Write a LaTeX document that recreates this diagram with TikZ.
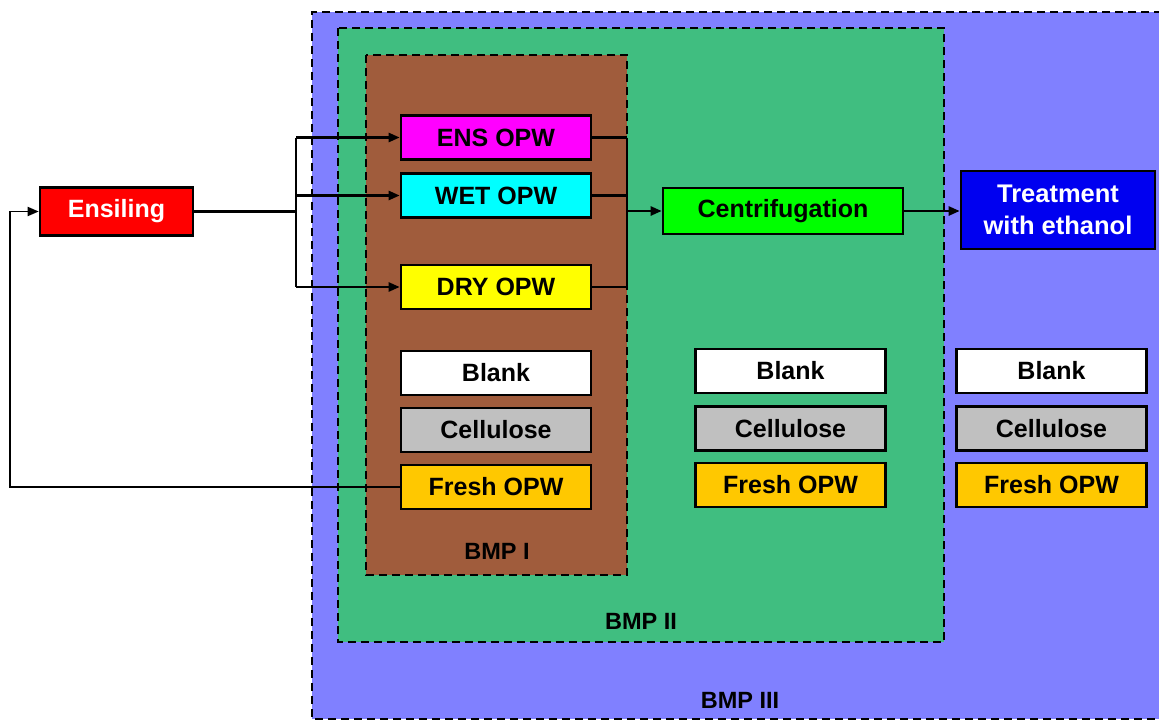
\documentclass[tikz,border=0pt]{standalone}
\usepackage{fontspec}
\setmainfont{Liberation Sans}
\usetikzlibrary{arrows.meta}
\definecolor{bmpthree}{RGB}{128,128,255}
\definecolor{bmptwo}{RGB}{64,190,128}
\definecolor{bmpone}{RGB}{160,92,60}
\definecolor{freshc}{RGB}{255,200,0}
\definecolor{cellc}{RGB}{192,192,192}
\definecolor{centc}{RGB}{0,255,0}
\definecolor{treatc}{RGB}{0,0,240}
\definecolor{ensc}{RGB}{255,0,255}
\definecolor{wetc}{RGB}{0,255,255}
\definecolor{dryc}{RGB}{255,255,0}
\begin{document}
\begin{tikzpicture}[x=1pt,y=-1pt,
  region/.style={draw=black,line width=2pt,dash pattern=on 8pt off 5pt},
  procbox/.style={draw=black,line width=2.6pt,minimum width=190pt,minimum height=44pt,inner sep=0pt,font=\fontsize{25}{28}\selectfont\bfseries,anchor=center},
  lbl/.style={font=\fontsize{23.5}{26}\selectfont\bfseries},
  conn/.style={line width=2.4pt},
  arr/.style={line width=2.4pt,-{Triangle[length=11pt,width=9pt]}}]
\useasboundingbox (0,0) rectangle (1159,720);
% regions
\fill[bmpthree] (312,12) rectangle (1159,719);
\draw[region] (1162,12) -- (312,12) -- (312,719) -- (1162,719);
\draw[region,fill=bmptwo] (338,28) rectangle (944,642);
\draw[region,fill=bmpone] (366,55) rectangle (627,575);
\node[lbl] (l1) at (497,551) {BMP I};
\node[lbl] (l2) at (641,621) {BMP II};
\node[lbl] (l3) at (740,700) {BMP III};
% boxes
\node[procbox,fill=red,text=white,minimum width=153pt,minimum height=48pt] (ensil) at (116.5,211.5) {Ensiling};
\node[procbox,fill=ensc] (ens) at (496,137.5) {ENS OPW};
\node[procbox,fill=wetc] (wet) at (496,195.5) {WET OPW};
\node[procbox,fill=dryc] (dry) at (496,287) {DRY OPW};
\node[procbox,fill=white] (b1) at (496,373) {Blank};
\node[procbox,fill=cellc] (c1) at (496,430) {Cellulose};
\node[procbox,fill=freshc] (f1) at (496,487) {Fresh OPW};
\node[procbox,fill=centc,minimum width=240pt,minimum height=46pt] (cent) at (783,211) {Centrifugation};
\node[procbox,fill=treatc,text=white,minimum width=194pt,minimum height=78pt,align=center,font=\fontsize{25.5}{32}\selectfont\bfseries] (treat) at (1058,210) {Treatment\\with ethanol};
\node[procbox,fill=white] (b2) at (790.5,371) {Blank};
\node[procbox,fill=cellc] (c2) at (790.5,428.5) {Cellulose};
\node[procbox,fill=freshc] (f2) at (790.5,485) {Fresh OPW};
\node[procbox,fill=white] (b3) at (1051.5,371) {Blank};
\node[procbox,fill=cellc] (c3) at (1051.5,428.5) {Cellulose};
\node[procbox,fill=freshc] (f3) at (1051.5,485) {Fresh OPW};
% connectors
\coordinate (split) at (296,211.5);
\coordinate (join) at (627,211);
\draw[conn] (ensil.east) -- (split);
\draw[conn] (split |- ens.west) -- (split |- dry.west);
\draw[arr] (split |- ens.west) -- (ens.west);
\draw[arr] (split |- wet.west) -- (wet.west);
\draw[arr] (split |- dry.west) -- (dry.west);
\draw[conn] (ens.east) -- (join |- ens.east);
\draw[conn] (wet.east) -- (join |- wet.east);
\draw[conn] (dry.east) -- (join |- dry.east);
\draw[conn] (join |- ens.east) -- (join |- dry.east);
\draw[arr] (join) -- (cent.west);
\draw[arr] (cent.east) -- (treat.west |- cent.east);
\coordinate (back) at (10,487);
\draw[arr,line width=1.8pt] (f1.west) -- (back) |- (ensil.west);
\end{tikzpicture}
\end{document}
